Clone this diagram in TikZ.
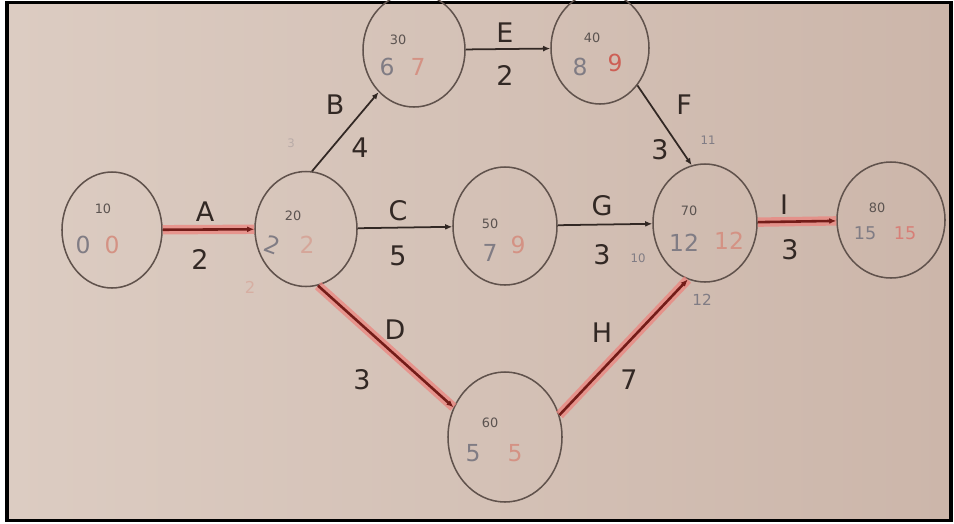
\documentclass[tikz,border=0pt]{standalone}
\usepackage{fontspec}
\setmainfont{DejaVu Sans}
\usepackage{xcolor}
\usepackage{tikz}
\usetikzlibrary{arrows.meta,shapes.geometric}
\definecolor{paperl}{RGB}{220,204,194}
\definecolor{paperm}{RGB}{231,217,209}
\definecolor{paperr}{RGB}{204,182,170}
\definecolor{rimgrey}{RGB}{96,82,76}
\definecolor{inkdark}{RGB}{50,40,36}
\definecolor{esgrey}{RGB}{128,124,132}
\definecolor{lspink}{RGB}{212,146,132}
\definecolor{lsred}{RGB}{205,95,85}
\definecolor{critred}{RGB}{115,28,24}
\definecolor{critglow}{RGB}{236,132,126}
\tikzset{
  evtnode/.style={draw=rimgrey, ellipse, line width=1.3pt, inner sep=0pt},
  actarrow/.style={-{Latex[length=6pt,width=5pt]}, draw=inkdark, line width=1.5pt},
  critarrow/.style={-{Latex[length=6pt,width=5pt]}, draw=critred, line width=2.2pt,
    preaction={draw=critglow, line width=8pt, opacity=0.75, -}},
  actname/.style={text=inkdark, font=\fontsize{23}{26}\selectfont},
  evtid/.style={text=inkdark!80, font=\fontsize{11}{13}\selectfont},
  esval/.style={text=esgrey, font=\fontsize{20}{22}\selectfont},
  lsval/.style={text=lspink, font=\fontsize{20}{22}\selectfont},
  noteval/.style={text=esgrey, font=\fontsize{10}{12}\selectfont}
}
\begin{document}
\begin{tikzpicture}[x=0.03cm, y=-0.03cm]
  \useasboundingbox (0,0) rectangle (954,523);
  \fill[white] (0,0) rectangle (954,523);
  \shade[left color=paperl, middle color=paperm, right color=paperr] (8,4) rectangle (950,519);
  \draw[black, line width=3.2pt] (7,2.5) rectangle (951,520.5);

  % events
  \node[evtnode, minimum width=3.0cm, minimum height=3.48cm] (n10) at (112,230) {};
  \node[evtnode, minimum width=3.06cm, minimum height=3.45cm] (n20) at (306,229) {};
  \node[evtnode, minimum width=3.06cm, minimum height=3.42cm] (n30) at (414,50) {};
  \node[evtnode, minimum width=2.94cm, minimum height=3.36cm] (n40) at (600,48) {};
  \node[evtnode, minimum width=3.12cm, minimum height=3.54cm] (n50) at (505,226) {};
  \node[evtnode, minimum width=3.42cm, minimum height=3.9cm] (n60) at (505,437) {};
  \node[evtnode, minimum width=3.12cm, minimum height=3.54cm] (n70) at (705,223) {};
  \node[evtnode, minimum width=3.24cm, minimum height=3.48cm] (n80) at (891,220) {};

  % event numbers, earliest and latest times
  \node[evtid] (n10id) at (103,209) {10};
  \node[esval] (n10es) at (83,245) {0};
  \node[lsval] (n10ls) at (112,245) {0};
  \node[evtid] (n20id) at (293,216) {20};
  \node[esval, rotate=-20] (n20es) at (272,245) {2};
  \node[lsval, opacity=0.6] (n20ls) at (307,245) {2};
  \node[evtid] (n30id) at (398,40) {30};
  \node[esval] (n30es) at (387,67) {6};
  \node[lsval] (n30ls) at (418,67) {7};
  \node[evtid] (n40id) at (592,38) {40};
  \node[esval] (n40es) at (580,67) {8};
  \node[lsval, text=lsred] (n40ls) at (615,63) {9};
  \node[evtid] (n50id) at (490,224) {50};
  \node[esval] (n50es) at (490,253) {7};
  \node[lsval] (n50ls) at (518,245) {9};
  \node[evtid] (n60id) at (490,423) {60};
  \node[esval] (n60es) at (473,453) {5};
  \node[lsval] (n60ls) at (515,453) {5};
  \node[evtid] (n70id) at (689,211) {70};
  \node[esval] (n70es) at (684,243) {12};
  \node[lsval] (n70ls) at (729,241) {12};
  \node[evtid] (n80id) at (877,208) {80};
  \node[esval, font=\fontsize{15}{17}\selectfont] (n80es) at (865,233) {15};
  \node[lsval, text=lsred!80, font=\fontsize{15}{17}\selectfont] (n80ls) at (905,233) {15};

  % activities
  \draw[critarrow] (n10) -- (n20);
  \draw[actarrow] (n20.84) -- (n30.230);
  \draw[actarrow] (n20) -- (n50);
  \draw[critarrow] (n20.-78) -- (n60.150);
  \draw[actarrow] (n30) -- (n40);
  \draw[actarrow] (n40.-45) -- (n70.103);
  \draw[actarrow] (n50) -- (n70);
  \draw[critarrow] (n60.22) -- (n70.-107);
  \draw[critarrow] (n70) -- (n80);

  % activity names and durations
  \node[actname] (lA) at (205,212) {A};
  \node[actname] (dA) at (200,259) {2};
  \node[actname] (lB) at (335,105) {B};
  \node[actname] (dB) at (360,148) {4};
  \node[actname] (lC) at (398,211) {C};
  \node[actname] (dC) at (398,256) {5};
  \node[actname] (lD) at (395,330) {D};
  \node[actname] (dD) at (362,380) {3};
  \node[actname] (lE) at (505,33) {E};
  \node[actname] (dE) at (505,75) {2};
  \node[actname] (lF) at (684,105) {F};
  \node[actname] (dF) at (660,150) {3};
  \node[actname] (lG) at (602,206) {G};
  \node[actname] (dG) at (602,255) {3};
  \node[actname] (lH) at (602,333) {H};
  \node[actname] (dH) at (629,380) {7};
  \node[actname] (lI) at (784,205) {I};
  \node[actname] (dI) at (790,250) {3};

  % pencil notes
  \node[noteval, opacity=0.35] (m20a) at (291,143) {3};
  \node[lsval, opacity=0.45, font=\fontsize{14}{16}\selectfont] (m20b) at (250,287) {2};
  \node[noteval] (m70a) at (708,140) {11};
  \node[noteval] (m70b) at (638,258) {10};
  \node[noteval, font=\fontsize{13}{15}\selectfont] (m70c) at (702,300) {12};
\end{tikzpicture}
\end{document}
